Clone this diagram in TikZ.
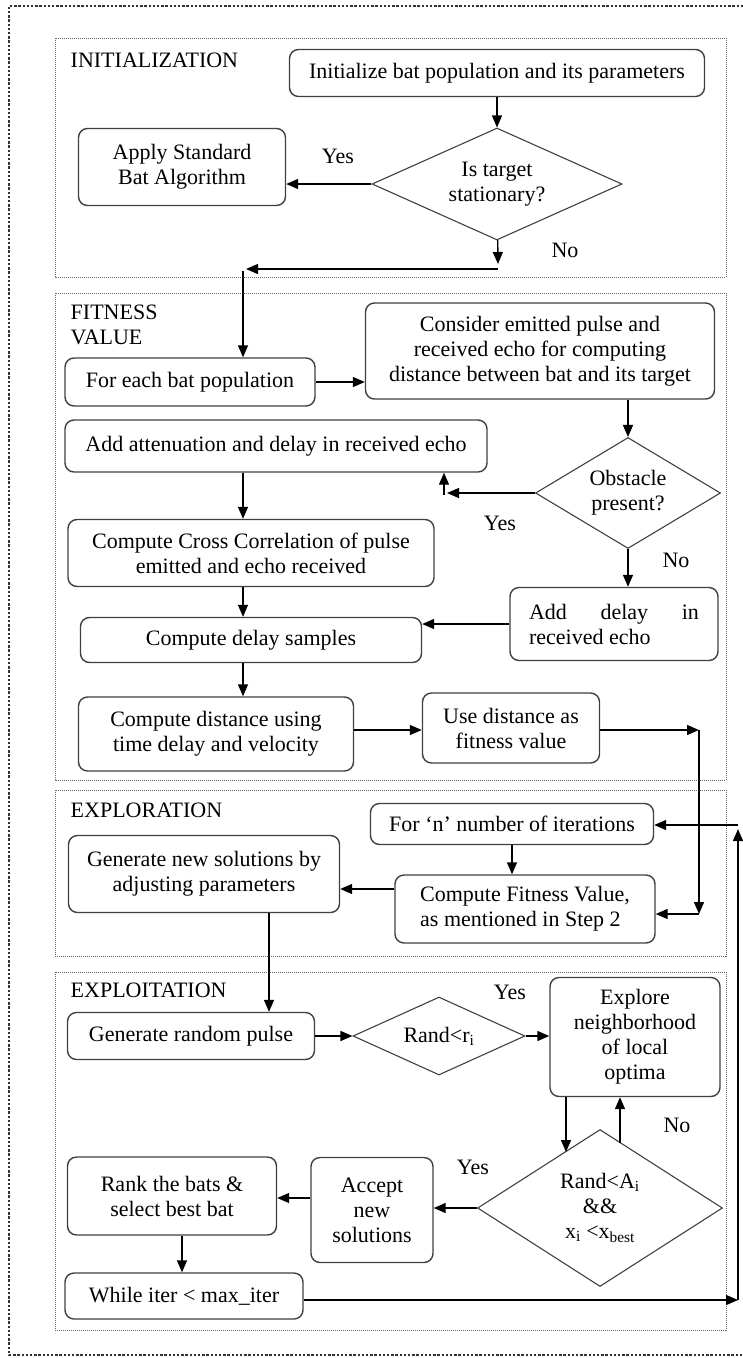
\documentclass[tikz,border=0pt]{standalone}
\usepackage{fontspec}
\setmainfont{Liberation Serif}
\usetikzlibrary{shapes.geometric,arrows.meta,positioning}

\newcommand{\fsz}{\fontsize{22}{25}\selectfont}

\tikzset{
  stepbox/.style={draw=black!75, rounded corners=9pt, inner sep=0pt, align=center},
  decision/.style={diamond, draw=black!75, line width=1.1pt, inner sep=0pt, align=center},
  sz/.style 2 args={minimum width=#1pt, minimum height=#2pt},
  phase/.style={draw=black!60, line width=1pt, dash pattern=on 1pt off 1pt},
  phasename/.style={anchor=base west, inner sep=0pt, align=left},
  lbl/.style={inner sep=0pt},
}

\begin{document}
\begin{tikzpicture}[%
       x=1pt, y=-1pt,
       >={Triangle[length=12pt,width=10pt]},
       line width=1.4pt,
       on grid,
       every node/.style={font=\fsz, text=black}
     ]
     \useasboundingbox (0,0) rectangle (742,1358);

     % outer frame and the four phases
     \draw[black!80, line width=2.6pt, dash pattern=on 2.4pt off 1.8pt]
          (760,6) -- (9,6) -- (9,1355) -- (760,1355);
     \draw[phase] (55,38)  rectangle (726,277);
     \draw[phase] (55,293) rectangle (726,780);
     \draw[phase] (55,790) rectangle (726,956);
     \draw[phase] (55,972) rectangle (726,1330);

     \node[phasename] (p1) at (70,67)  {INITIALIZATION};
     \node[phasename, anchor=north west] (p2) at (70,304) {FITNESS\\VALUE};
     \node[phasename] (p3) at (70,817) {EXPLORATION};
     \node[phasename] (p4) at (70,997) {EXPLOITATION};

     % initialization
     \node[stepbox, sz={415}{47}]  (init)  at (497,73) {Initialize bat population and its parameters};
     \node[decision, sz={250}{112}, aspect=2.23] (stat) [below=111pt of init] {Is target\\stationary?};
     \node[stepbox, sz={207}{77}]  (apply) at (182,167) {Apply Standard\\Bat Algorithm};

     % fitness value
     \node[stepbox, sz={250}{48}]  (each)     at (190,382) {For each bat population};
     \node[stepbox, sz={349}{96}]  (consider) at (540,351) {Consider emitted pulse and\\received echo for computing\\distance between bat and its target};
     \node[decision, sz={185}{111}, aspect=1.67] (obst) at (628,493) {Obstacle\\present?};
     \node[stepbox, sz={422}{52}]  (atten)    at (276,446) {Add attenuation and delay in received echo};
     \node[stepbox, sz={366}{67}]  (cc)       at (251,553) {Compute Cross Correlation of pulse\\emitted and echo received};
     \node[stepbox, sz={341}{45}]  (samples)  [below=87pt of cc] {Compute delay samples};
     \node[stepbox, sz={208}{73}, align=left] (adddelay) at (614,624) {\makebox[170pt][s]{Add delay in}\\received echo};
     \node[stepbox, sz={275}{74}]  (dist)     at (216,734) {Compute distance using\\time delay and velocity};
     \node[stepbox, sz={177}{70}]  (usedist)  at (511,728) {Use distance as\\fitness value};

     % exploration
     \node[stepbox, sz={283}{41}]  (forn)   at (512,824) {For ‘n’ number of iterations};
     \node[stepbox, sz={260}{68}, align=left] (fit) at (525,909) {Compute Fitness Value,\\as mentioned in Step 2};
     \node[stepbox, sz={271}{77}]  (gennew) at (204,874) {Generate new solutions by\\adjusting parameters};

     % exploitation
     \node[stepbox, sz={247}{47}]  (genrand) at (191,1036) {Generate random pulse};
     \node[decision, sz={172}{78}, aspect=2.2] (randr) [right=248pt of genrand] {Rand<r\textsubscript{i}};
     \node[stepbox, sz={170}{119}] (explore) at (635,1037) {Explore\\neighborhood\\of local\\optima};
     \node[decision, sz={245}{157}, aspect=1.56] (randa) at (600,1208) {Rand<A\textsubscript{i}\\\&\&\\x\textsubscript{i} <x\textsubscript{best}};
     \node[stepbox, sz={122}{105}] (accept)  at (372,1210) {Accept\\new\\solutions};
     \node[stepbox, sz={209}{78}]  (rank)    at (172,1196) {Rank the bats \&\\select best bat};
     \node[stepbox, sz={238}{46}]  (while)   at (184,1296) {While iter < max\_iter};

     % yes / no
     \node[lbl] (y1) at (338,156)  {Yes};
     \node[lbl] (n1) at (565,250)  {No};
     \node[lbl] (y2) at (500,523)  {Yes};
     \node[lbl] (n2) at (676,560)  {No};
     \node[lbl] (y3) at (510,992)  {Yes};
     \node[lbl] (n3) at (677,1125) {No};
     \node[lbl] (y4) at (473,1167) {Yes};

     % bends of the connectors
     \coordinate (spine) at (243,0);
     \coordinate (c1) at (498,264);
     \coordinate (c2) at (498,269);
     \coordinate (c3) at (246,269);
     \coordinate (c4) at (243,271);
     \coordinate (c5) at (447,493);
     \coordinate (c6) at (444,495);
     \coordinate (c7) at (699,730);
     \coordinate (c8) at (699,914);
     \coordinate (c9) at (269,0);
     \coordinate (c10) at (566,1152);
     \coordinate (c11) at (620,1143);
     \coordinate (c12) at (182,0);
     \coordinate (c13) at (738,1300);
     \coordinate (c14) at (738,829);
     \coordinate (c15) at (738,825);

     \draw[->] (init) -- (stat);
     \draw[->] (stat.west) -- (stat.west -| apply.east);
     \draw[->] (stat) -- (c1);
     \draw[->] (c2) -- (c3);
     \draw[->] (c4) -- (c4 |- each.north);

     \draw[->] (each.east) -- (each.east -| consider.west);
     \draw[->] (obst |- consider.south) -- (obst.north);
     \draw[->] (obst.west) -- (c5);
     \draw[->] (c6) -- (c6 |- atten.south);
     \draw[->] (atten.south -| spine) -- (cc.north -| spine);
     \draw[->] (obst.south) -- (obst.south |- adddelay.north);
     \draw[->] (cc.south -| spine) -- (samples.north -| spine);
     \draw[->] (adddelay.west) -- (adddelay.west -| samples.east);
     \draw[->] (samples.south -| spine) -- (dist.north -| spine);
     \draw[->] ([yshift=4pt]dist.east) -- ([yshift=4pt]dist.east -| usedist.west);
     \draw[->] (usedist.east |- c7) -- (c7);
     \draw[->] (c7) -- (c8);
     \draw[->] (c8) -- (c8 -| fit.east);

     \draw[->] (forn.south) -- (forn.south |- fit.north);
     \draw[->] ([yshift=20pt]fit.west) -- ([yshift=20pt]fit.west -| gennew.east);
     \draw[->] (gennew.south -| c9) -- (genrand.north -| c9);

     \draw[->] (genrand.east) -- (randr.west);
     \draw[->] (randr.east) -- (randr.east -| explore.west);
     \draw[->] (c10 |- explore.south) -- (c10);
     \draw[->] (c11) -- (c11 |- explore.south);
     \draw[->] (randa.west) -- (randa.west -| accept.east);
     \draw[->] ([yshift=12pt]accept.west) -- ([yshift=12pt]accept.west -| rank.east);
     \draw[->] (rank.south -| c12) -- (while.north -| c12);
     \draw[->] ([yshift=-4pt]while.east) -- (c13);
     \draw[->] (c13) -- (c14);
     \draw[->] (c15) -- (c15 -| forn.east);
\end{tikzpicture}
\end{document}
